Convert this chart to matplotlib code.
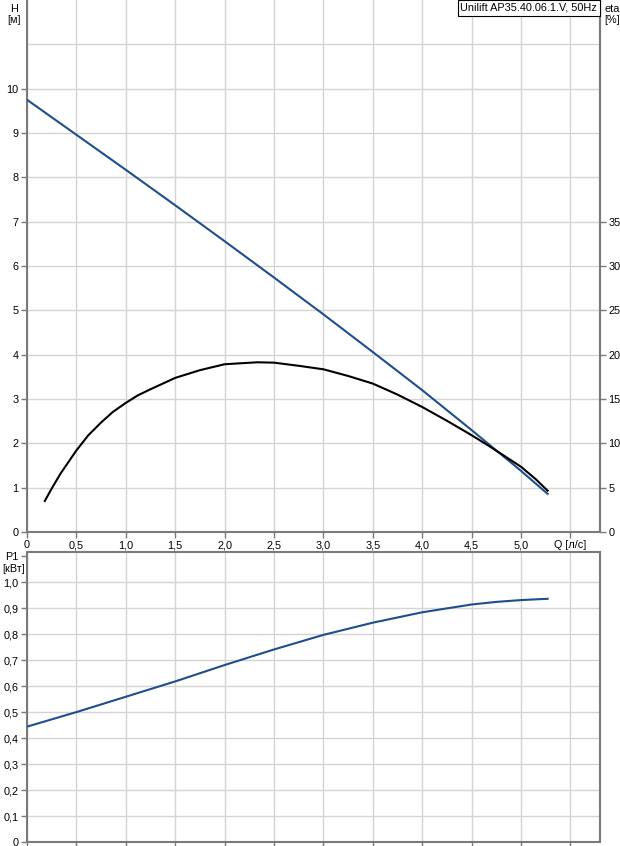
import matplotlib
matplotlib.use("Agg")
import matplotlib.pyplot as plt

plt.rcParams['font.family'] = ['Liberation Sans', 'DejaVu Sans']

# Data
q_h = [0.0, 0.5, 1.0, 1.5, 2.0, 2.5, 3.0, 3.5, 4.0, 4.5, 5.0, 5.27]
h_vals = [9.75, 8.96, 8.17, 7.37, 6.56, 5.74, 4.91, 4.06, 3.2, 2.30, 1.38, 0.86]

q_eta = [0.18, 0.25, 0.34, 0.5, 0.62, 0.75, 0.87, 1.0, 1.12, 1.25, 1.5, 1.75, 2.0, 2.33,
         2.5, 2.76, 3.0, 3.25, 3.5, 3.75, 4.0, 4.25, 4.5, 4.68, 5.0, 5.15, 5.27]
eta_vals = [3.5, 4.9, 6.6, 9.2, 10.9, 12.35, 13.55, 14.56, 15.4, 16.1, 17.38, 18.25, 18.92,
            19.14, 19.1, 18.73, 18.35, 17.6, 16.74, 15.5, 14.1, 12.55, 10.92, 9.68, 7.36,
            5.95, 4.66]

q_p = [0.0, 0.5, 1.0, 1.5, 2.0, 2.5, 3.0, 3.5, 4.0, 4.25, 4.5, 4.75, 5.0, 5.27]
p_vals = [0.445, 0.501, 0.56, 0.619, 0.682, 0.742, 0.798, 0.845, 0.885, 0.90, 0.915,
          0.925, 0.932, 0.937]

q_ticks = [0, 0.5, 1.0, 1.5, 2.0, 2.5, 3.0, 3.5, 4.0, 4.5, 5.0]
q_labels = ["0", "0,5", "1,0", "1,5", "2,0", "2,5", "3,0", "3,5", "4,0", "4,5", "5,0"]
h_ticks = list(range(0, 11))
eta_ticks = [0, 5, 10, 15, 20, 25, 30, 35]
p_ticks = [0, 0.1, 0.2, 0.3, 0.4, 0.5, 0.6, 0.7, 0.8, 0.9, 1.0]
p_labels = ["0", "0,1", "0,2", "0,3", "0,4", "0,5", "0,6", "0,7", "0,8", "0,9", "1,0"]
title = "Unilift AP35.40.06.1.V, 50Hz"

W, H = 620, 846
fig = plt.figure(figsize=(W / 100, H / 100), dpi=100)

blue = '#1f4e8c'
grid_c = '#d4d4d4'
spine_c = '#7a7a7a'
fs = 7.8
lw = 1.5

def ax_rect(l, t, r, b):
    return [l / W, 1 - b / H, (r - l) / W, (b - t) / H]

# ---- top chart ----
ax = fig.add_axes(ax_rect(27, 0, 600, 532))
xmax = 5.80
ax.set_xlim(0, xmax)
ax.set_ylim(0, 12)
ax.plot(q_h, h_vals, color=blue, lw=lw, zorder=3)
ax2 = ax.twinx()
ax2.set_ylim(0, 60)
ax2.plot(q_eta, eta_vals, color='black', lw=lw, zorder=3)

grid_x = q_ticks + [5.5]
for gx in grid_x:
    ax.axvline(gx, color=grid_c, lw=1, zorder=0)
for gy in list(range(1, 12)):
    ax.axhline(gy, color=grid_c, lw=1, zorder=0)

ax.set_xticks(q_ticks + [5.5])
ax.set_xticklabels(q_labels + ["Q [л/с]"], fontsize=fs)
ax.set_yticks(h_ticks)
ax.set_yticklabels([str(v) for v in h_ticks], fontsize=fs)
ax2.set_yticks(eta_ticks)
ax2.set_yticklabels([str(v) for v in eta_ticks], fontsize=fs)
for a in (ax, ax2):
    a.tick_params(colors='black', length=4, width=1, pad=2)
    a.tick_params(axis='both', color=spine_c)
    for s in a.spines.values():
        s.set_color(spine_c)
        s.set_linewidth(1.5)
    a.spines['top'].set_visible(False)
ax2.spines['left'].set_visible(False)
ax2.spines['bottom'].set_visible(False)

fig.text(14 / W, 1 - 9 / H, "H", fontsize=fs, ha='center', va='center')
fig.text(14 / W, 1 - 20 / H, "[м]", fontsize=fs, ha='center', va='center')
fig.text(612 / W, 1 - 9 / H, "eta", fontsize=fs, ha='center', va='center')
fig.text(612 / W, 1 - 20 / H, "[%]", fontsize=fs, ha='center', va='center')
fig.text(597 / W, 1 - 8 / H, title, fontsize=fs, ha='right', va='center',
         bbox=dict(boxstyle='square,pad=0.25', fc='white', ec='black', lw=0.8))

# ---- bottom chart ----
axb = fig.add_axes(ax_rect(27, 552, 600, 842.3))
axb.set_xlim(0, xmax)
axb.set_ylim(0, 1.117)
axb.plot(q_p, p_vals, color=blue, lw=lw, zorder=3)
for gx in grid_x:
    axb.axvline(gx, color=grid_c, lw=1, zorder=0)
for gy in p_ticks[1:]:
    axb.axhline(gy, color=grid_c, lw=1, zorder=0)
axb.set_xticks(grid_x)
axb.set_xticklabels([])
axb.set_yticks(p_ticks + [1.1])
axb.set_yticklabels(p_labels + ["P1"], fontsize=fs)
axb.tick_params(colors='black', length=4, width=1, pad=2)
axb.tick_params(axis='both', color=spine_c)
for s in axb.spines.values():
    s.set_color(spine_c)
    s.set_linewidth(1.5)
fig.text(14 / W, 1 - 569 / H, "[кВт]", fontsize=fs, ha='center', va='center')

fig.savefig("out.png", dpi=100)
